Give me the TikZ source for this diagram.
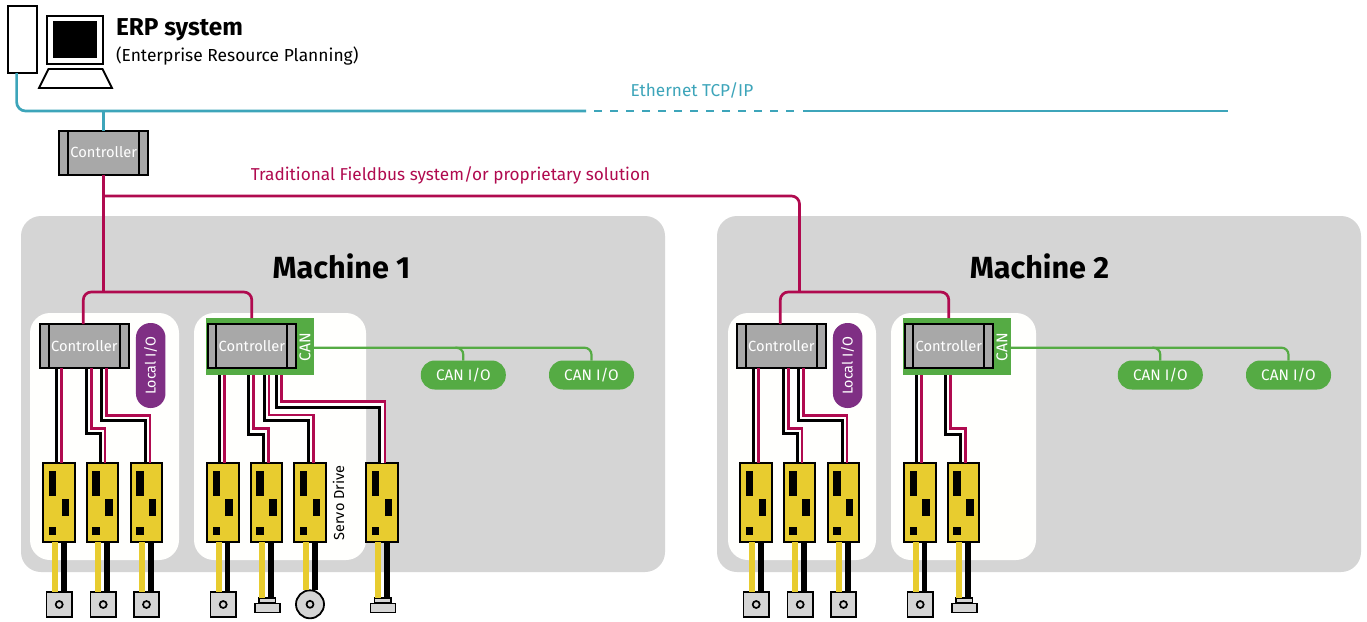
\documentclass[tikz,border=0pt]{standalone}
\usepackage{fontspec}
\setmainfont{Fira Sans}
\usetikzlibrary{calc}
\definecolor{panelgrey}{HTML}{D5D5D5}
\definecolor{ctlgrey}{HTML}{A8A8A8}
\definecolor{crim}{HTML}{B00A4F}
\definecolor{teal2}{HTML}{3DA5BA}
\definecolor{yel}{HTML}{E8CC2F}
\definecolor{grn}{HTML}{55AB44}
\definecolor{purp}{HTML}{7F2F84}
\definecolor{panelw}{HTML}{FFFFFD}
\tikzset{
  x=1pt,y=-1pt,
  machinebg/.style={fill=panelgrey,rounded corners=20pt,draw=none},
  panel/.style={fill=panelw,rounded corners=20pt,draw=none},
  ctlbox/.style={draw=black,line width=2pt,fill=ctlgrey,minimum width=88.5pt,minimum height=44pt,inner sep=0pt,outer sep=0pt,text=white,font=\fontsize{14.7}{15}\selectfont},
  drvbox/.style={draw=black,line width=2pt,fill=yel,minimum width=31.5pt,minimum height=79.5pt,inner sep=0pt,outer sep=0pt},
  canbox/.style={fill=grn,minimum width=108pt,minimum height=57pt,inner sep=0pt,outer sep=0pt},
  canio/.style={fill=grn,rounded corners=14pt,minimum width=85pt,minimum height=29pt,inner sep=0pt,outer sep=0pt,text=white,font=\fontsize{15.3}{15}\selectfont},
  localio/.style={fill=purp,rounded corners=14.5pt,minimum width=85pt,minimum height=29.5pt,inner sep=0pt,rotate=90,text=white,font=\fontsize{14.3}{15}\selectfont},
  wblack/.style={draw=black,line width=2.8pt,line cap=butt},
  wcrim/.style={draw=crim,line width=2.8pt,line cap=butt},
  wwhite/.style={draw=white,line width=3pt,line cap=butt},
  wyel/.style={draw=yel,line width=5.8pt,line cap=butt},
  wblk/.style={draw=black,line width=5.4pt,line cap=butt},
  crimbus/.style={draw=crim,line width=2.7pt,rounded corners=8pt},
  tealbus/.style={draw=teal2,line width=2.7pt},
  greenbus/.style={draw=grn,line width=2.2pt,rounded corners=7pt},
  motorbox/.style={draw=black,line width=1.8pt,fill=panelgrey,minimum width=25.5pt,minimum height=25pt,inner sep=0pt,outer sep=0pt},
  motorcirc/.style={draw=black,line width=1.8pt,fill=panelgrey,circle,minimum size=28pt,inner sep=0pt,outer sep=0pt},
  hub/.style={draw=black,line width=1.7pt,fill=panelgrey,circle,minimum size=7pt,inner sep=0pt,outer sep=0pt},
  linbase/.style={draw=black,line width=1.6pt,fill=panelgrey,minimum width=25pt,minimum height=9pt,inner sep=0pt,outer sep=0pt},
  lintop/.style={draw=black,line width=1.6pt,fill=panelgrey,minimum width=16.5pt,minimum height=5pt,inner sep=0pt,outer sep=0pt},
  txt/.style={inner sep=0pt,outer sep=0pt},
}
\newcommand{\ctlnode}[3]{%
  \node[ctlbox] (#1) at (#2,#3) {Controller};
  \draw[black,line width=2pt] ([xshift=8.8pt]#1.north west) -- ([xshift=8.8pt]#1.south west);
  \draw[black,line width=2pt] ([xshift=-8.8pt]#1.north east) -- ([xshift=-8.8pt]#1.south east);
}
\newcommand{\drvnode}[2]{%
  \node[drvbox] (#1) at (#2,502.3) {};
  \fill[black] ($(#1.center)+(-10.5,-31.6)$) rectangle ($(#1.center)+(-2.8,-6.3)$);
  \fill[black] ($(#1.center)+(2.3,-3)$) rectangle ($(#1.center)+(10,13.2)$);
  \fill[black] ($(#1.center)+(-10.5,24.7)$) rectangle ($(#1.center)+(-2.8,32.2)$);
}
\newcommand{\wirebus}[6]{%
  \coordinate (wa) at ([xshift=#3pt]#2.south);
  \coordinate (wb) at ([xshift=#5pt]#4.north);
  \coordinate (wy) at (0,#6);
  \draw[#1] (wa) -- (wa |- wy) -- (wb |- wy) -- (wb);
}
\newcommand{\wirest}[5]{%
  \coordinate (wa) at ([xshift=#3pt]#2.south);
  \coordinate (wb) at ([xshift=#5pt]#4.north);
  \draw[#1] (wa) -- (wa |- wb);
}
\newcommand{\motorwires}[2]{%
  \draw[wyel] ([xshift=-4.4pt]#1.south) -- ([xshift=-4.4pt]#1.south |- #2.north);
  \draw[wblk] ([xshift=4.6pt]#1.south) -- ([xshift=4.6pt]#1.south |- #2.north);
}
\newcommand{\squaremotor}[2]{%
  \node[motorbox] (#1) at (#2,604.5) {};
  \node[hub] (#1h) at (#1.center) {};
}
\newcommand{\linearmotor}[2]{%
  \node[lintop] (#1) at (#2,600.7) {};
  \node[linbase] (#1b) at (#2,607.8) {};
}
\newcommand{\commonparts}[1]{%
  \ctlnode{#1c1}{84.3}{346}
  \node[canbox] (#1can) at (260,346.5) {};
  \ctlnode{#1c2}{251.8}{346}
  \node[txt,rotate=90,text=white,font=\fontsize{15.6}{15}\selectfont] (#1cantxt) at (305,347.5) {CAN};
  \node[localio] (#1lio) at (150.7,365.5) {Local I/O};
  \node[canio] (#1io1) at (463.3,375) {CAN I/O};
  \node[canio] (#1io2) at (591.5,375) {CAN I/O};
  \drvnode{#1d1}{59.2}
  \drvnode{#1d2}{102.5}
  \drvnode{#1d3}{146.3}
  \drvnode{#1d4}{223}
  \drvnode{#1d5}{266.5}
  \squaremotor{#1m1}{59.2}
  \squaremotor{#1m2}{103.2}
  \squaremotor{#1m3}{146.5}
  \squaremotor{#1m4}{223.2}
  \linearmotor{#1m5}{267.2}
  \motorwires{#1d1}{#1m1}
  \motorwires{#1d2}{#1m2}
  \motorwires{#1d3}{#1m3}
  \motorwires{#1d4}{#1m4}
  \motorwires{#1d5}{#1m5}
  \wirest{wblack}{#1c1}{-27.6}{#1d1}{-2.5}
  \wirest{wcrim}{#1c1}{-22.6}{#1d1}{2.5}
  \wirebus{wblack}{#1c1}{2.4}{#1d2}{-1.8}{433.3}
  \wirebus{wcrim}{#1c1}{7}{#1d2}{2.5}{428.3}
  \wirebus{wblack}{#1c1}{17.4}{#1d3}{-1}{420.7}
  \wirebus{wcrim}{#1c1}{22}{#1d3}{3.7}{415.3}
  \wirest{wblack}{#1can}{-40.3}{#1d4}{-3.3}
  \wirest{wcrim}{#1can}{-35.7}{#1d4}{1.3}
  \wirebus{wblack}{#1can}{-11.3}{#1d5}{-2.8}{434.3}
  \wirebus{wcrim}{#1can}{-6.3}{#1d5}{1.8}{428.3}
  \coordinate (#1ctop) at (0,347.7);
  \draw[greenbus] (#1can.east |- #1ctop) -- (#1io2.north |- #1ctop) -- (#1io2.north);
  \draw[greenbus] (#1io1.north |- #1ctop) ++(-8,0) -- ++(8,0) -- (#1io1.north);
  \coordinate (#1jn) at (0,292);
  \coordinate (#1cbt) at (#1c2.north |- #1can.north);
  \draw[crimbus] ([xshift=-1pt]#1c1.north) -- ([xshift=-1pt]#1c1.north |- #1jn) -- (#1cbt |- #1jn) -- (#1cbt);
}
\begin{document}
\begin{tikzpicture}
\useasboundingbox (0,0) rectangle (1367,621);
\fill[white] (0,0) rectangle (1367,621);
\fill[machinebg] (21,216) rectangle (665,572);
\fill[machinebg] (717,216) rectangle (1361,572);
\fill[panel] (30,313) rectangle (179,560);
\fill[panel] (194,313) rectangle (366,560);
\fill[panel] (728,313) rectangle (876,560);
\fill[panel] (891,313) rectangle (1036,560);
\node[txt,font=\fontsize{30.6}{31}\selectfont\bfseries] (m1t) at (341.5,266) {Machine 1};
\node[txt,font=\fontsize{30.6}{31}\selectfont\bfseries] (m2t) at (1039.5,266) {Machine 2};
\node[draw=black,line width=2pt,fill=white,minimum width=29pt,minimum height=67.5pt,inner sep=0pt,outer sep=0pt] (tower) at (22.6,39.3) {};
\node[draw=black,line width=2pt,fill=white,minimum width=56.5pt,minimum height=48pt,inner sep=0pt,outer sep=0pt] (mon) at (75,39.5) {};
\node[fill=black,minimum width=43.4pt,minimum height=36.7pt,inner sep=0pt,outer sep=0pt] (scr) at (75,39.3) {};
\draw[black,line width=1.8pt,fill=white,line join=miter] (48.5,69) -- (102.5,69) -- (112,88) -- (39,88) -- cycle;
\node[txt,anchor=west,font=\fontsize{24.4}{25}\selectfont\bfseries] (erp) at (116,29.5) {ERP system};
\node[txt,anchor=west,font=\fontsize{17.4}{18}\selectfont] (erps) at (116,56.5) {(Enterprise Resource Planning)};
\ctlnode{c0}{103.7}{152.5}
\coordinate (eleft) at (0,111);
\coordinate (dstart) at (586,111);
\coordinate (dfirst) at (594,111);
\coordinate (dlast) at (795,111);
\coordinate (dend) at (803,111);
\coordinate (eright) at (1228,111);
\draw[tealbus,rounded corners=9pt] ([xshift=-6pt]tower.south) -- ([xshift=-6pt]tower.south |- eleft) -- (dstart);
\draw[tealbus,dash pattern=on 7.5pt off 8.5pt] (dfirst) -- (dlast);
\draw[tealbus] (dend) -- (eright);
\draw[tealbus] (c0.north) -- (c0.north |- eleft);
\node[txt,text=teal2,font=\fontsize{17.2}{17}\selectfont] (eth) at (692,90) {Ethernet TCP/IP};
\node[txt,text=crim,font=\fontsize{17.2}{17}\selectfont] (trad) at (450.5,175.5) {Traditional Fieldbus system/or proprietary solution};
\commonparts{a}
\drvnode{ad6}{310.2}
\drvnode{ad7}{382.2}
\node[txt,rotate=90,font=\fontsize{14.5}{15}\selectfont] (servo) at (338.5,503) {Servo Drive};
\node[motorcirc] (am6) at (310,604.3) {};
\node[hub] (am6h) at (am6.center) {};
\linearmotor{am7}{382.8}
\motorwires{ad6}{am6}
\motorwires{ad7}{am7}
\wirebus{wblack}{acan}{4.3}{ad6}{-1.9}{420.7}
\wirebus{wcrim}{acan}{9}{ad6}{3.1}{415}
\wirebus{wwhite}{acan}{18.8}{ad7}{0}{404.3}
\wirebus{wblack}{acan}{16.3}{ad7}{-2.9}{407.3}
\wirebus{wcrim}{acan}{21.3}{ad7}{2.8}{401.3}
\begin{scope}[xshift=697pt]
\commonparts{b}
\end{scope}
\coordinate (fy) at (0,196);
\coordinate (fx) at (799.5,292);
\draw[crimbus] (c0.south) -- (c0.south |- ajn);
\draw[crimbus] (c0.south |- fy) -- (fx |- fy) -- (fx);
\end{tikzpicture}
\end{document}
